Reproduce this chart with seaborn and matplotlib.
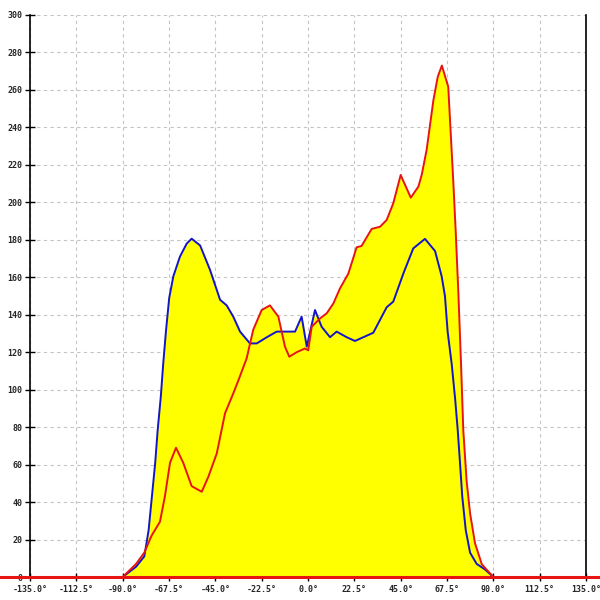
#!/usr/bin/env python3

import matplotlib
matplotlib.use("Agg")
import matplotlib.pyplot as plt
import pandas as pd
import seaborn as sns

BLUE_X = [
    -90, -83.5, -79.5, -77.4, -75.8, -74.2, -73, -71.5, -70.3, -69,
    -67.4, -65.4, -62.2, -58.9, -56.5, -52.4, -47.6, -42.7, -39.5, -36.3,
    -33, -28.2, -24.9, -20, -15.2, -10.3, -6.3, -3.1, -0.6, 3.4,
    6.6, 10.7, 13.9, 18.8, 22.8, 31.7, 38.2, 41.4, 46.3, 51.1,
    56.8, 61.7, 64.9, 66.5, 67.8, 69.8, 71.4, 72.7, 73.8, 74.9,
    76.6, 78.7, 81.9, 86, 90,
]
BLUE_Y = [
    0, 5.5, 11, 25, 43, 61, 78.5, 96, 114, 131,
    149, 160.5, 171, 178, 180.6, 177, 164, 148, 145, 139,
    131, 124.7, 124.7, 128, 131, 131, 131, 139, 123, 142.5,
    133.6, 128, 131, 128, 126, 130.4, 144, 147, 162, 175.4,
    180.5, 174, 160.5, 150, 131, 113.4, 95.6, 78.5, 61, 43,
    25, 13, 7, 4, 0,
]
RED_X = [
    -90, -83.5, -79.5, -76, -71.9, -69.5, -67, -64.1, -60.6, -56.5,
    -51.6, -48.4, -44.3, -40.3, -36.3, -33.8, -29.8, -26.6, -22.5, -18.5,
    -14.4, -11.2, -9.1, -5.5, -1.5, 0.1, 1.8, 5.8, 9.1, 12.3,
    15.5, 19.6, 23.6, 26, 30.9, 35, 38.2, 41.4, 45, 49.9,
    53.6, 55.2, 57.6, 60.9, 63, 65, 68.1, 70.6, 71.7, 73,
    74.3, 75.4, 77, 78.7, 81.1, 84.4, 90,
]
RED_Y = [
    0, 7, 13, 22, 29.5, 43, 61, 69, 61, 48.5,
    45.5, 53.5, 66, 87.4, 98, 105, 116.7, 132, 142.5, 145,
    139, 123, 117.6, 120, 122, 121, 133.6, 138, 140.8, 146,
    154, 162, 176, 176.7, 185.8, 187, 190.6, 199.5, 214.6, 202.5,
    208.4, 214.6, 228, 254.6, 267, 273, 261.7, 210, 185, 152,
    114, 78.5, 51.5, 34, 18, 6.8, 0,
]
X_TICKS = [-135, -112.5, -90, -67.5, -45, -22.5, 0, 22.5, 45, 67.5, 90, 112.5, 135]
Y_TICKS = list(range(0, 301, 20))

BLUE = "#1414c8"
RED = "#e81414"
YELLOW = "#ffff00"


def main():
    sns.set_style("white")
    plt.rcParams["font.family"] = ["DejaVu Sans Mono"]
    blue = pd.DataFrame({"x": BLUE_X, "y": BLUE_Y})
    red = pd.DataFrame({"x": RED_X, "y": RED_Y})

    fig = plt.figure(figsize=(6, 6), dpi=100)
    ax = fig.add_axes([0.05, 0.0383, 0.9267, 0.9367])

    ax.fill_between(blue.x, blue.y, 0, color=YELLOW, lw=0, zorder=1)
    ax.fill_between(red.x, red.y, 0, color=YELLOW, lw=0, zorder=1)
    sns.lineplot(data=blue, x="x", y="y", color=BLUE, lw=1.4, ax=ax, zorder=3)
    sns.lineplot(data=red, x="x", y="y", color=RED, lw=1.4, ax=ax, zorder=4)
    ax.axhline(0, xmin=-0.06, xmax=1.03, color=RED, lw=2.2,
               clip_on=False, zorder=5)

    ax.set_xlim(-135, 135)
    ax.set_ylim(0, 300)
    ax.set_xticks(X_TICKS)
    ax.set_xticklabels([f"{v:.1f}°" for v in X_TICKS])
    ax.set_yticks(Y_TICKS)
    ax.set_yticklabels([str(v) for v in Y_TICKS])
    ax.set_xlabel("")
    ax.set_ylabel("")
    ax.grid(True, color="#c4c4c4", ls=(0, (3, 3)), lw=0.8, zorder=0)
    ax.set_axisbelow(True)
    ax.spines["top"].set_visible(False)
    for side in ["left", "right", "bottom"]:
        ax.spines[side].set_color("black")
        ax.spines[side].set_linewidth(1.2)
    ax.tick_params(axis="both", direction="inout", length=7, width=1,
                   color="black", labelsize=6, pad=2)
    ax.tick_params(axis="x", length=6, pad=3)
    ax.tick_params(axis="both", which="both", left=True, bottom=True,
                   right=False, top=False)
    for label in ax.get_xticklabels() + ax.get_yticklabels():
        label.set_fontweight("bold")

    fig.savefig("out.png", dpi=100)
    plt.close(fig)


if __name__ == "__main__":
    main()
